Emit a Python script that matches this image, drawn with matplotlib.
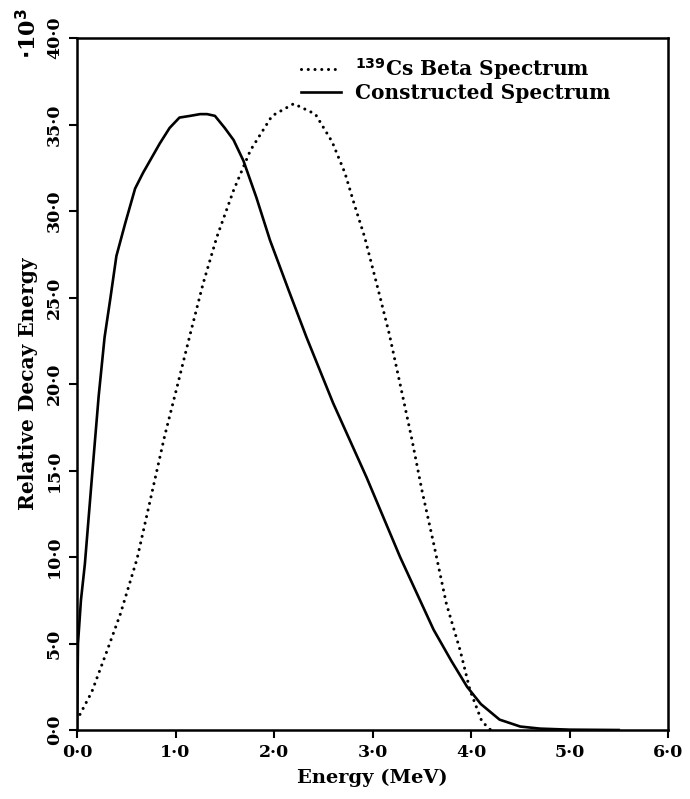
import numpy as np
import matplotlib
matplotlib.use("Agg")
from matplotlib import pyplot as plt

# constructed spectrum (solid), y in units of 1e-3
x_con = [0.0, 0.01, 0.04, 0.08, 0.15, 0.22, 0.28, 0.34, 0.40, 0.49, 0.59, 0.67,
         0.74, 0.84, 0.94, 1.04, 1.15, 1.25, 1.32, 1.40, 1.50, 1.59, 1.69, 1.82,
         1.96, 2.15, 2.33, 2.60, 2.94, 3.28, 3.62, 3.80, 3.96, 4.10, 4.29, 4.50,
         4.70, 5.00, 5.50]
y_con = [0.0, 5.0, 7.5, 9.6, 14.5, 19.3, 22.7, 25.0, 27.4, 29.3, 31.3, 32.2,
         32.9, 33.9, 34.8, 35.4, 35.5, 35.6, 35.6, 35.5, 34.8, 34.1, 32.9, 30.8,
         28.3, 25.4, 22.7, 18.9, 14.6, 10.0, 5.8, 4.0, 2.5, 1.5, 0.6, 0.2,
         0.08, 0.02, 0.0]

# 139Cs beta spectrum (dotted)
x_cs = [0.03, 0.15, 0.30, 0.44, 0.61, 0.76, 0.89, 1.01, 1.15, 1.28, 1.42, 1.59,
        1.76, 1.98, 2.20, 2.42, 2.59, 2.72, 2.82, 2.92, 3.06, 3.17, 3.28, 3.40,
        3.50, 3.62, 3.75, 3.89, 3.99, 4.11, 4.20]
y_cs = [0.9, 2.2, 4.5, 6.7, 9.9, 13.7, 17.0, 19.7, 22.9, 25.8, 28.5, 31.2,
        33.5, 35.5, 36.2, 35.6, 34.0, 32.2, 30.3, 28.5, 25.4, 22.9, 20.0, 16.8,
        13.9, 10.8, 7.3, 4.6, 2.3, 0.5, 0.0]

xticks = [0, 1, 2, 3, 4, 5, 6]
yticks = [0, 5, 10, 15, 20, 25, 30, 35, 40]

plt.rcParams["font.family"] = ["DejaVu Serif"]
plt.rcParams["font.weight"] = "bold"

fig = plt.figure(figsize=(6.9, 7.99), dpi=100)
ax = fig.add_axes([77 / 690, 1 - 730 / 799, 591 / 690, 692 / 799])

ax.plot(x_cs, y_cs, color="black", lw=2.2, linestyle=(0, (0.01, 2.2)),
        dash_capstyle="round", label=r"$^{139}$Cs Beta Spectrum")
ax.plot(x_con, y_con, color="black", lw=1.9, label="Constructed Spectrum")

ax.set_xlim(0, 6)
ax.set_ylim(0, 40)
ax.set_xticks(xticks)
ax.set_yticks(yticks)
ax.set_xticklabels([f"{v:.1f}".replace(".", "\u00b7") for v in xticks])
ax.set_yticklabels([f"{v:.1f}".replace(".", "\u00b7") for v in yticks],
                   rotation=90, va="center")
ax.tick_params(direction="out", length=6, width=1.5, labelsize=12.5, pad=4)
for s in ax.spines.values():
    s.set_linewidth(1.8)

ax.set_xlabel("Energy (MeV)", fontsize=14, fontweight="bold", labelpad=6)
ax.set_ylabel("Relative Decay Energy", fontsize=14.5, fontweight="bold", labelpad=6)

fig.text(29 / 690, 1 - 33 / 799, r"$\cdot$10$^3$", rotation=90, fontsize=16,
         ha="center", va="center")

ax.legend(loc="upper left", bbox_to_anchor=(0.365, 0.985), frameon=False,
          fontsize=14.5, handlelength=2.0, handletextpad=0.7, labelspacing=0.05,
          borderaxespad=0)

fig.savefig("out.png", dpi=100)
